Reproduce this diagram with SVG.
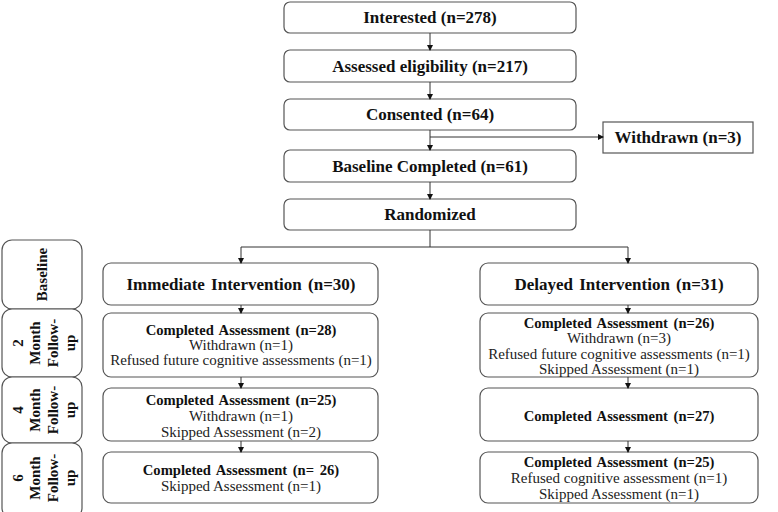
<svg xmlns="http://www.w3.org/2000/svg" width="778" height="512" viewBox="0 0 778 512">
<style>
.b{fill:#fff;stroke:#555;stroke-width:1.2}
.t{font-family:"Liberation Serif",serif;font-weight:bold;fill:#111;text-anchor:middle}
.w{word-spacing:2px}
.s{font-family:"Liberation Serif",serif;fill:#222;text-anchor:middle;font-size:15px}
.c{fill:none;stroke:#333;stroke-width:1}
</style>
<defs>
<marker id="a" markerWidth="6" markerHeight="6" refX="5" refY="3" orient="auto" markerUnits="userSpaceOnUse">
<path d="M0,0 L6,3 L0,6 Z" fill="#111"/>
</marker>
</defs>
<rect width="778" height="512" fill="#fff"/>
<g id="interested"><rect class="b" x="284" y="2" width="292" height="31" rx="6"/><text class="t" x="430" y="23" font-size="17">Interested (n=278)</text></g>
<g id="assessed"><rect class="b" x="284" y="50" width="292" height="32" rx="6"/><text class="t" x="430" y="72" font-size="17">Assessed eligibility (n=217)</text></g>
<g id="consented"><rect class="b" x="284" y="99" width="292" height="31" rx="6"/><text class="t" x="430" y="120" font-size="17">Consented (n=64)</text></g>
<g id="withdrawn"><rect class="b" x="603" y="122" width="150" height="31"/><text class="t" x="678" y="143" font-size="17">Withdrawn (n=3)</text></g>
<g id="baseline-completed"><rect class="b" x="284" y="150" width="292" height="32" rx="6"/><text class="t" x="430" y="172" font-size="17">Baseline Completed (n=61)</text></g>
<g id="randomized"><rect class="b" x="284" y="199" width="292" height="31" rx="6"/><text class="t" x="430" y="220" font-size="17">Randomized</text></g>

<g id="side-baseline"><rect class="b" x="2" y="240" width="80" height="69" rx="10"/><text class="t" font-size="15" transform="translate(47,274.5) rotate(-90)">Baseline</text></g>
<g id="side-2"><rect class="b" x="2" y="309" width="80" height="68" rx="10"/><text class="t" font-size="15" transform="translate(42,343) rotate(-90)"><tspan x="0" y="-19">2</tspan><tspan x="0" y="-2">Month</tspan><tspan x="0" y="16">Follow-</tspan><tspan x="0" y="33">up</tspan></text></g>
<g id="side-4"><rect class="b" x="2" y="377" width="80" height="66" rx="10"/><text class="t" font-size="15" transform="translate(42,410) rotate(-90)"><tspan x="0" y="-19">4</tspan><tspan x="0" y="-2">Month</tspan><tspan x="0" y="16">Follow-</tspan><tspan x="0" y="33">up</tspan></text></g>
<g id="side-6"><rect class="b" x="2" y="443" width="80" height="75" rx="10"/><text class="t" font-size="15" transform="translate(42,478) rotate(-90)"><tspan x="0" y="-19">6</tspan><tspan x="0" y="-2">Month</tspan><tspan x="0" y="16">Follow-</tspan><tspan x="0" y="33">up</tspan></text></g>

<g id="immediate"><rect class="b" x="103" y="263" width="275" height="42" rx="8"/><text class="t w" x="241" y="290" font-size="17">Immediate Intervention (n=30)</text></g>
<g id="delayed"><rect class="b" x="480" y="263" width="278" height="42" rx="8"/><text class="t w" x="619" y="290" font-size="17">Delayed Intervention (n=31)</text></g>

<g id="imm-2"><rect class="b" x="103" y="313" width="275" height="64" rx="8"/><text class="t w" x="241" y="335" font-size="14.6">Completed Assessment (n=28)</text><text class="s" x="241" y="350">Withdrawn (n=1)</text><text class="s" x="241" y="365">Refused future cognitive assessments (n=1)</text></g>
<g id="del-2"><rect class="b" x="480" y="313" width="278" height="64" rx="8"/><text class="t w" x="619" y="328" font-size="14.6">Completed Assessment (n=26)</text><text class="s" x="619" y="343">Withdrawn (n=3)</text><text class="s" x="619" y="359">Refused future cognitive assessments (n=1)</text><text class="s" x="619" y="374">Skipped Assessment (n=1)</text></g>

<g id="imm-4"><rect class="b" x="103" y="388" width="275" height="53" rx="8"/><text class="t w" x="241" y="405" font-size="14.6">Completed Assessment (n=25)</text><text class="s" x="241" y="421">Withdrawn (n=1)</text><text class="s" x="241" y="437">Skipped Assessment (n=2)</text></g>
<g id="del-4"><rect class="b" x="480" y="388" width="278" height="53" rx="8"/><text class="t w" x="619" y="421" font-size="14.6">Completed Assessment (n=27)</text></g>

<g id="imm-6"><rect class="b" x="103" y="452" width="275" height="51" rx="8"/><text class="t w" x="241" y="475" font-size="14.6">Completed Assessment (n= 26)</text><text class="s" x="241" y="491">Skipped Assessment (n=1)</text></g>
<g id="del-6"><rect class="b" x="480" y="452" width="278" height="51" rx="8"/><text class="t w" x="619" y="467" font-size="14.6">Completed Assessment (n=25)</text><text class="s" x="619" y="483">Refused cognitive assessment (n=1)</text><text class="s" x="619" y="499">Skipped Assessment (n=1)</text></g>

<g id="connectors">
<path class="c" d="M430,33 V50" marker-end="url(#a)"/>
<path class="c" d="M430,82 V99" marker-end="url(#a)"/>
<path class="c" d="M430,130 V150" marker-end="url(#a)"/>
<path class="c" d="M430,137 H603" marker-end="url(#a)"/>
<path class="c" d="M430,182 V199" marker-end="url(#a)"/>
<path class="c" d="M430,230 V247 M241,247 H628"/>
<path class="c" d="M241,247 V263" marker-end="url(#a)"/>
<path class="c" d="M628,247 V263" marker-end="url(#a)"/>
<path class="c" d="M241,305 V313" marker-end="url(#a)"/>
<path class="c" d="M241,377 V388" marker-end="url(#a)"/>
<path class="c" d="M241,441 V452" marker-end="url(#a)"/>
<path class="c" d="M628,305 V313" marker-end="url(#a)"/>
<path class="c" d="M628,377 V388" marker-end="url(#a)"/>
<path class="c" d="M628,441 V452" marker-end="url(#a)"/>
</g>
</svg>
